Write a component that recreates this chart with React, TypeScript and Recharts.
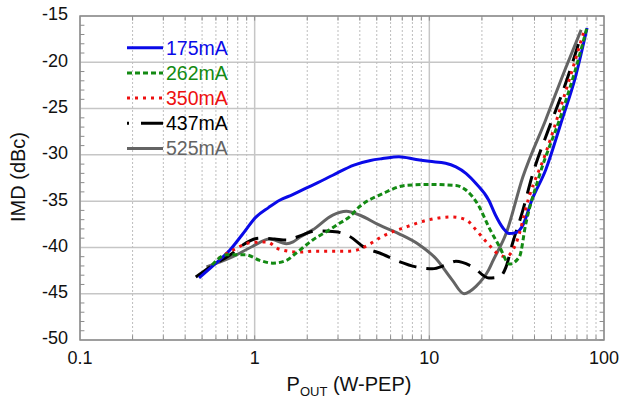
import { CartesianGrid, Line, LineChart, ReferenceArea, ReferenceLine, XAxis, YAxis } from "recharts";

const FONT = "'Liberation Sans', Arial, Helvetica, sans-serif";

// output power (W-PEP) and IMD (dBc) for each quiescent current
const P175 = [0.48, 0.6, 0.72, 0.85, 1.02, 1.2, 1.39, 1.65, 1.97, 2.3, 2.8, 3.7, 4.6, 5.4, 6.7, 8.4, 10, 12.4, 14.2, 16.2, 18.5, 21.9, 23.9, 26.4, 28.6, 31.3, 34.3, 38.6, 46.4, 57.5, 68.6, 80];
const IMD175 = [-43.3, -41.7, -40.3, -38.6, -36.7, -35.7, -34.9, -34.3, -33.6, -33.0, -32.2, -31.1, -30.6, -30.4, -30.2, -30.5, -30.7, -30.9, -31.3, -32.0, -33.1, -34.9, -36.5, -37.9, -38.5, -38.4, -37.6, -34.9, -31.6, -26.2, -21.6, -16.3];

const P262 = [0.57, 0.69, 0.89, 1.07, 1.27, 1.52, 1.73, 2.15, 2.68, 3.06, 3.49, 3.98, 5.39, 7.33, 10, 14.2, 16.2, 19.3, 21.9, 25.2, 28.8, 32.8, 35.7, 42.4, 57.5, 68.6, 80];
const IMD262 = [-41.9, -40.8, -40.8, -41.4, -41.7, -41.4, -40.6, -39.2, -38.1, -37.4, -36.7, -35.6, -34.2, -33.3, -33.2, -33.3, -33.8, -35.6, -37.8, -39.9, -41.8, -41.0, -37.4, -32.4, -25.4, -20.8, -16.2];

const P350 = [0.62, 0.75, 0.94, 1.17, 1.39, 1.81, 2.24, 2.8, 3.5, 3.98, 4.5, 5.39, 7.33, 10, 13.5, 16.2, 18.5, 21.2, 25.2, 27.5, 31.3, 37.3, 46.4, 57.5, 77.2];
const IMD350 = [-41.2, -40.3, -39.5, -39.4, -40.2, -40.5, -40.4, -40.4, -40.4, -40.2, -39.7, -38.8, -37.8, -37.0, -36.7, -37.0, -38.1, -39.4, -40.8, -41.0, -39.6, -34.5, -29.8, -24.4, -16.5];

const P437 = [0.46, 0.58, 0.75, 0.86, 1.07, 1.3, 1.52, 1.85, 2.24, 2.9, 3.49, 4.33, 5.19, 6.67, 8.38, 10.4, 12.4, 14.2, 17.7, 21.9, 25.2, 27.5, 29.9, 34.3, 38.6, 48, 57.5, 74];
const IMD437 = [-43.2, -41.9, -40.6, -39.7, -39.0, -39.1, -39.2, -38.7, -38.2, -38.3, -38.8, -40.1, -40.6, -41.5, -42.1, -42.3, -41.9, -41.5, -42.1, -43.3, -43.2, -42.1, -39.6, -36.0, -32.4, -27.3, -23.4, -17.1];

const P525 = [0.53, 0.75, 0.97, 1.22, 1.52, 1.66, 1.81, 2.15, 2.8, 3.35, 3.98, 5.19, 6.67, 8.74, 10.9, 13.5, 15.8, 18.5, 21.9, 23.2, 27.5, 34.3, 46.4, 59.8, 74];
const IMD525 = [-42.1, -41.0, -39.9, -39.1, -39.6, -39.4, -38.9, -38.1, -36.5, -36.1, -36.5, -37.6, -38.5, -39.7, -41.2, -43.5, -45.0, -44.2, -42.4, -41.4, -38.5, -32.4, -26.2, -20.8, -16.5];

const X_TICKS = [0.1, 1, 10, 100];
const X_MINOR = [0.2, 0.3, 0.4, 0.5, 0.6, 0.7, 0.8, 0.9, 2, 3, 4, 5, 6, 7, 8, 9, 20, 30, 40, 50, 60, 70, 80, 90];
const Y_TICKS = [-50, -45, -40, -35, -30, -25, -20, -15];
const Y_MINOR = [-49, -48, -47, -46, -44, -43, -42, -41, -39, -38, -37, -36, -34, -33, -32, -31, -29, -28, -27, -26, -24, -23, -22, -21, -19, -18, -17, -16];

const X_MIN = 0.1;
const X_MAX = 100;
const Y_MIN = -50;
const Y_MAX = -15;

const toPoints = (xs: number[], ys: number[]) => xs.map((x, i) => ({ x, y: ys[i] }));

const series = {
  "175mA": { data: toPoints(P175, IMD175), color: "#0a0ae8", dash: undefined, legendDash: undefined },
  "262mA": { data: toPoints(P262, IMD262), color: "#138a13", dash: "5 3", legendDash: "5 3" },
  "350mA": { data: toPoints(P350, IMD350), color: "#ee1010", dash: "3 5", legendDash: "3 5" },
  "437mA": { data: toPoints(P437, IMD437), color: "#000000", dash: "18 10", legendDash: "2 12 22" },
  "525mA": { data: toPoints(P525, IMD525), color: "#646464", dash: undefined, legendDash: undefined },
};

const LEGEND_ORDER = ["175mA", "262mA", "350mA", "437mA", "525mA"] as const;
const DRAW_ORDER = ["525mA", "437mA", "175mA", "350mA", "262mA"] as const;

const FRAME = "#8c8c8c";
// tick lengths, in axis units (≈ 4-5 px)
const X_TICK_LEN = 0.5;
const Y_TICK_FACTOR = 1.06;

function YTitle() {
  return (
    <text x={25} y={177} transform="rotate(-90 25 177)" textAnchor="middle" fontSize={20} fontFamily={FONT} fill="#111">
      IMD (dBc)
    </text>
  );
}

function XTitle() {
  return (
    <text x={349} y={391} textAnchor="middle" fontSize={20} fontFamily={FONT} fill="#111">
      <tspan>P</tspan>
      <tspan fontSize={13} dy={5}>OUT</tspan>
      <tspan dy={-5}> (W-PEP)</tspan>
    </text>
  );
}

export default function App() {
  return (
    <div style={{ position: "absolute", left: 0, top: 0, width: 623, height: 402, background: "#fff" }}>
      <LineChart width={623} height={402} data={[]} margin={{ top: 16, right: 19, bottom: 0, left: 20 }}>
        <XAxis
          dataKey="x"
          type="number"
          scale="log"
          domain={[X_MIN, X_MAX]}
          allowDataOverflow
          ticks={X_TICKS}
          tickLine={false}
          tickSize={6}
          tickMargin={5}
          height={62}
          axisLine={false}
          tick={{ fontSize: 18, fontFamily: FONT, fill: "#111" }}
          tickFormatter={(v: number) => String(v)}
          label={{ content: () => <XTitle /> }}
        />
        <YAxis
          type="number"
          domain={[Y_MIN, Y_MAX]}
          ticks={Y_TICKS}
          allowDataOverflow
          width={60}
          tickLine={false}
          tickSize={6}
          tickMargin={6}
          axisLine={false}
          tick={{ fontSize: 18, fontFamily: FONT, fill: "#111", dy: -2 }}
          label={{ content: () => <YTitle /> }}
        />
        {X_MINOR.map((v) => (
          <ReferenceLine key={`gx${v}`} x={v} stroke="#bdbdbd" strokeDasharray="2 2" />
        ))}
        <CartesianGrid stroke="#c6c6c6" strokeWidth={1.5} />
        {[...X_MINOR, 1, 10].map((v) => (
          <ReferenceLine key={`tb${v}`} segment={[{ x: v, y: Y_MIN }, { x: v, y: Y_MIN + X_TICK_LEN }]} stroke={FRAME} />
        ))}
        {[...X_MINOR, 1, 10].map((v) => (
          <ReferenceLine key={`tt${v}`} segment={[{ x: v, y: Y_MAX }, { x: v, y: Y_MAX - X_TICK_LEN }]} stroke={FRAME} />
        ))}
        {Y_MINOR.map((v) => (
          <ReferenceLine key={`tl${v}`} segment={[{ x: X_MIN, y: v }, { x: X_MIN * Y_TICK_FACTOR, y: v }]} stroke={FRAME} />
        ))}
        {[...Y_MINOR, ...Y_TICKS].map((v) => (
          <ReferenceLine key={`tr${v}`} segment={[{ x: X_MAX / Y_TICK_FACTOR, y: v }, { x: X_MAX, y: v }]} stroke={FRAME} />
        ))}
        {DRAW_ORDER.map((name) => (
          <Line
            key={name}
            name={name}
            data={series[name].data}
            dataKey="y"
            type="monotone"
            stroke={series[name].color}
            strokeWidth={3}
            strokeDasharray={series[name].dash}
            dot={false}
            activeDot={false}
            isAnimationActive={false}
          />
        ))}
        <ReferenceArea x1={X_MIN} x2={X_MAX} y1={Y_MIN} y2={Y_MAX} fill="none" fillOpacity={0} stroke={FRAME} strokeWidth={1.5} />
      </LineChart>
      <svg width={623} height={402} style={{ position: "absolute", left: 0, top: 0, pointerEvents: "none" }}>
        {LEGEND_ORDER.map((name, i) => {
          const y = 47.7 + i * 25.2;
          return (
            <g key={name}>
              <line x1={127} x2={163} y1={y} y2={y} stroke={series[name].color} strokeWidth={3} strokeDasharray={series[name].legendDash} />
              <text x={166} y={y + 6.9} fontSize={19.5} fontFamily={FONT} fill={series[name].color}>
                {name}
              </text>
            </g>
          );
        })}
      </svg>
    </div>
  );
}
